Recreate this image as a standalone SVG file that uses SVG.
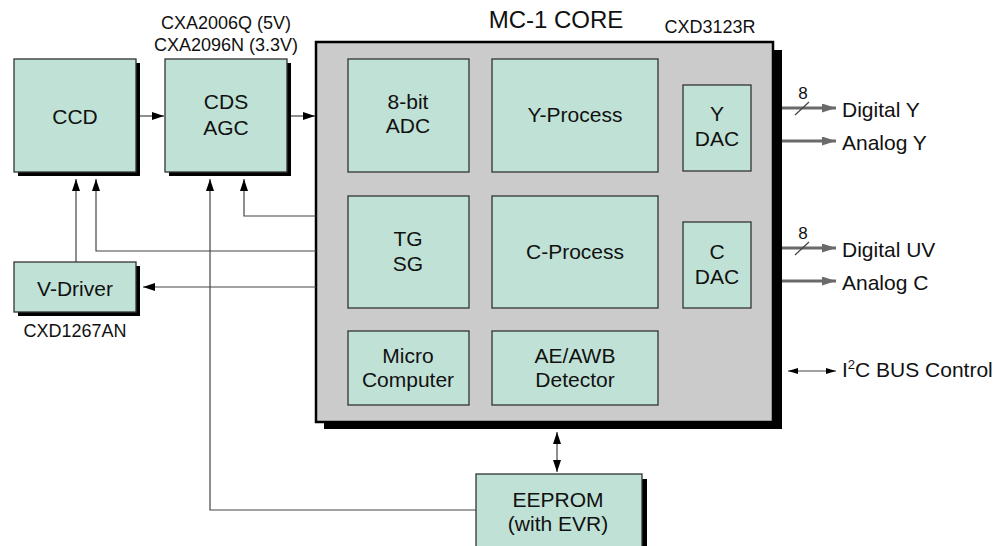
<svg xmlns="http://www.w3.org/2000/svg" width="1003" height="546" viewBox="0 0 1003 546">
  <style>
    text { font-family: "Liberation Sans", Arial, sans-serif; fill: #111; text-anchor: middle; }
    .lbl { font-size: 21px; }
    .part { font-size: 18px; }
    .title { font-size: 24px; }
    .out { font-size: 21px; text-anchor: start; }
    .box { fill: #c0e2d6; stroke: #333; stroke-width: 1.3; }
    .shadow { fill: #000; }
    .core { fill: #cbcbcb; stroke: #000; stroke-width: 2.5; }
    .wire { fill: none; stroke: #444; stroke-width: 1.2; }
    .bus { fill: none; stroke: #6a6a6a; stroke-width: 3.2; }
  </style>
  <defs>
    <marker id="ah" markerUnits="userSpaceOnUse" markerWidth="12" markerHeight="8" refX="12" refY="4" orient="auto-start-reverse">
      <path d="M0,0 L12,4 L0,8 z" fill="#000"/>
    </marker>
    <marker id="ahs" markerUnits="userSpaceOnUse" markerWidth="10" markerHeight="6" refX="10" refY="3" orient="auto-start-reverse">
      <path d="M0,0 L10,3 L0,6 z" fill="#000"/>
    </marker>
    <marker id="ahg" markerUnits="userSpaceOnUse" markerWidth="14" markerHeight="9" refX="14" refY="4.5" orient="auto">
      <path d="M0,0 L14,4.5 L0,9 z" fill="#6a6a6a"/>
    </marker>
  </defs>

  <rect width="1003" height="546" fill="#fff"/>

  <!-- MC-1 core chip -->
  <g id="core">
    <rect class="shadow" x="324" y="50" width="458" height="379"/>
    <rect class="core" x="316" y="42" width="457" height="380"/>
    <text class="title" x="556" y="28">MC-1 CORE</text>
    <text class="part" x="710" y="33">CXD3123R</text>
  </g>

  <g id="adc">
    <rect class="box" x="348" y="59" width="121" height="113"/>
    <text class="lbl" x="408" y="109">8-bit</text>
    <text class="lbl" x="408" y="133">ADC</text>
  </g>
  <g id="yprocess">
    <rect class="box" x="492" y="59" width="166" height="113"/>
    <text class="lbl" x="575" y="122">Y-Process</text>
  </g>
  <g id="ydac">
    <rect class="box" x="683" y="85" width="68" height="86"/>
    <text class="lbl" x="717" y="121">Y</text>
    <text class="lbl" x="717" y="146">DAC</text>
  </g>
  <g id="tgsg">
    <rect class="box" x="348" y="196" width="121" height="112"/>
    <text class="lbl" x="408" y="246">TG</text>
    <text class="lbl" x="408" y="271">SG</text>
  </g>
  <g id="cprocess">
    <rect class="box" x="492" y="196" width="166" height="112"/>
    <text class="lbl" x="575" y="259">C-Process</text>
  </g>
  <g id="cdac">
    <rect class="box" x="683" y="222" width="68" height="86"/>
    <text class="lbl" x="717" y="259">C</text>
    <text class="lbl" x="717" y="284">DAC</text>
  </g>
  <g id="micro">
    <rect class="box" x="348" y="331" width="121" height="74"/>
    <text class="lbl" x="408" y="363">Micro</text>
    <text class="lbl" x="408" y="387">Computer</text>
  </g>
  <g id="aeawb">
    <rect class="box" x="492" y="331" width="166" height="74"/>
    <text class="lbl" x="575" y="363">AE/AWB</text>
    <text class="lbl" x="575" y="387">Detector</text>
  </g>

  <!-- external parts -->
  <g id="ccd">
    <rect class="shadow" x="18" y="63" width="122" height="113"/>
    <rect class="box" x="14" y="59" width="122" height="113"/>
    <text class="lbl" x="75" y="124">CCD</text>
  </g>
  <g id="cdsagc">
    <rect class="shadow" x="169" y="63" width="122" height="113"/>
    <rect class="box" x="165" y="59" width="122" height="113"/>
    <text class="lbl" x="226" y="109">CDS</text>
    <text class="lbl" x="226" y="135">AGC</text>
    <text class="part" x="226" y="29">CXA2006Q (5V)</text>
    <text class="part" x="226" y="51">CXA2096N (3.3V)</text>
  </g>
  <g id="vdriver">
    <rect class="shadow" x="18" y="266" width="122" height="50"/>
    <rect class="box" x="14" y="262" width="122" height="50"/>
    <text class="lbl" x="75" y="296">V-Driver</text>
    <text class="part" x="75" y="337">CXD1267AN</text>
  </g>
  <g id="eeprom">
    <rect class="shadow" x="481" y="479" width="166" height="80"/>
    <rect class="box" x="476" y="474" width="166" height="80"/>
    <text class="lbl" x="558" y="507">EEPROM</text>
    <text class="lbl" x="558" y="531">(with EVR)</text>
  </g>

  <!-- connectors -->
  <g id="connectors">
    <path class="wire" d="M140,116 H164" marker-end="url(#ah)"/>
    <path class="wire" d="M291,116 H315" marker-end="url(#ah)"/>
    <path class="wire" d="M76,262 V179" marker-end="url(#ah)"/>
    <path class="wire" d="M316,251 H96 V179" marker-end="url(#ah)"/>
    <path class="wire" d="M316,216 H244 V179" marker-end="url(#ah)"/>
    <path class="wire" d="M476,510 H210 V179" marker-end="url(#ah)"/>
    <path class="wire" d="M316,287 H143" marker-end="url(#ah)"/>
    <path class="wire" d="M557,432 V472" marker-start="url(#ah)" marker-end="url(#ah)"/>
    <path class="wire" d="M788,371 H836" marker-start="url(#ahs)" marker-end="url(#ahs)"/>

    <path class="bus" d="M782,108 H836" marker-end="url(#ahg)"/>
    <path class="bus" d="M782,141 H836" marker-end="url(#ahg)"/>
    <path class="bus" d="M782,248 H836" marker-end="url(#ahg)"/>
    <path class="bus" d="M782,281 H836" marker-end="url(#ahg)"/>
    <path class="wire" d="M795,115 L809,102"/>
    <path class="wire" d="M795,255 L809,242"/>
    <text style="font-size:17px" x="803" y="99">8</text>
    <text style="font-size:17px" x="803" y="239">8</text>
  </g>

  <!-- output labels -->
  <g id="outputs">
    <text class="out" x="842" y="117">Digital Y</text>
    <text class="out" x="842" y="150">Analog Y</text>
    <text class="out" x="842" y="257">Digital UV</text>
    <text class="out" x="842" y="290">Analog C</text>
    <text class="out" x="842" y="377">I<tspan dy="-8" style="font-size:13px">2</tspan><tspan dy="8">C BUS Control</tspan></text>
  </g>
</svg>
